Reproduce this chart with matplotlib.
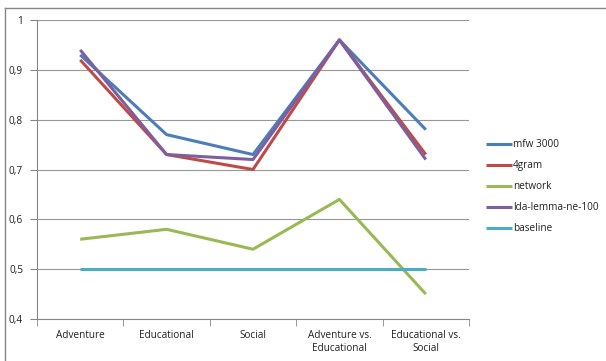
import matplotlib
matplotlib.use("Agg")
import matplotlib.pyplot as plt
from matplotlib.lines import Line2D
from matplotlib.ticker import FuncFormatter

categories = ["Adventure", "Educational", "Social",
              "Adventure vs.\nEducational", "Educational vs.\nSocial"]
mfw_3000 = [0.93, 0.77, 0.73, 0.96, 0.78]
gram4 = [0.92, 0.73, 0.70, 0.96, 0.73]
network = [0.56, 0.58, 0.54, 0.64, 0.45]
lda_lemma = [0.94, 0.73, 0.72, 0.96, 0.72]
baseline = [0.50, 0.50, 0.50, 0.50, 0.50]
y_ticks = [0.4, 0.5, 0.6, 0.7, 0.8, 0.9, 1.0]

series = [
    ("mfw 3000", mfw_3000, "#4A7EBB"),
    ("4gram", gram4, "#BE4B48"),
    ("network", network, "#98B954"),
    ("lda-lemma-ne-100", lda_lemma, "#7D5FA0"),
    ("baseline", baseline, "#4BACC6"),
]

plt.rcParams["font.family"] = ["Open Sans", "DejaVu Sans"]

W, H = 606, 361
fig = plt.figure(figsize=(W / 100, H / 100), dpi=100)
ax = fig.add_axes([37 / W, 1 - 319 / H, (469 - 37) / W, (319 - 20) / H])

x = list(range(len(categories)))
for name, vals, color in series:
    ax.plot(x, vals, color=color, lw=2.2, label=name, solid_capstyle="butt")

ax.set_xlim(-0.5, len(categories) - 0.5)
ax.set_ylim(0.4, 1.0)
ax.set_yticks(y_ticks)
ax.yaxis.set_major_formatter(FuncFormatter(
    lambda v, p: ("%g" % round(v, 2)).replace(".", ",")))
ax.set_xticks(x)
ax.set_xticklabels(categories, fontsize=7.2, color="#222222", linespacing=1.2)
ax.set_xticks([i - 0.5 for i in range(len(categories) + 1)], minor=True)
ax.tick_params(axis="x", which="major", length=0, pad=8)
ax.tick_params(axis="x", which="minor", length=5, color="#868686", direction="out")
ax.tick_params(axis="y", length=5, color="#868686", labelsize=7.2,
               labelcolor="#222222", pad=5)
ax.grid(axis="y", color="#979797", lw=0.8)
ax.set_axisbelow(True)
for s in ["top", "right"]:
    ax.spines[s].set_visible(False)
for s in ["left", "bottom"]:
    ax.spines[s].set_color("#868686")
    ax.spines[s].set_linewidth(0.8)

leg = fig.legend(loc="upper left", bbox_to_anchor=(482 / W, 1 - 135 / H),
                 frameon=False, fontsize=7.2, handlelength=2.6,
                 handletextpad=0.1, labelspacing=1.0, borderaxespad=0)
for t in leg.get_texts():
    t.set_color("#222222")

# outer chart frame (left and top edges)
fig.add_artist(Line2D([5 / W, 5 / W], [0, 1 - 8 / H], transform=fig.transFigure,
                      color="#868686", lw=1))
fig.add_artist(Line2D([5 / W, 1], [1 - 8 / H, 1 - 8 / H], transform=fig.transFigure,
                      color="#868686", lw=1))

fig.savefig("out.png", dpi=100, facecolor="white")
